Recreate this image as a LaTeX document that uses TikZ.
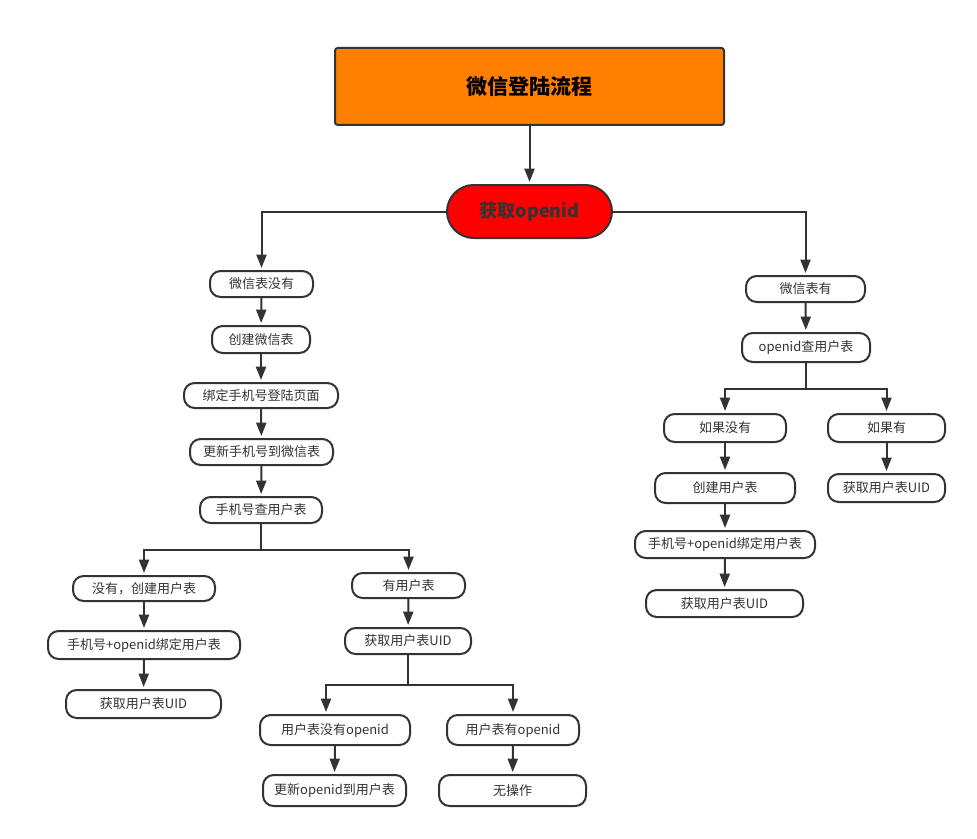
\documentclass[tikz,border=0pt]{standalone}
\usepackage{fontspec}
\setmainfont{Noto Sans CJK SC}
\usetikzlibrary{calc,arrows.meta}

\definecolor{linec}{HTML}{333333}
\definecolor{titlec}{HTML}{FF8000}
\definecolor{oidc}{HTML}{FF0000}

\tikzset{
  pill/.style 2 args={draw=linec, line width=1.5pt, rounded corners=8pt, fill=white,
    minimum width=#1*0.75pt, minimum height=#2*0.75pt, inner sep=0pt,
    text=linec, font=\fontsize{9.75}{11}\selectfont},
  link/.style={draw=linec, line width=1.5pt, -{Triangle[length=10pt,width=7.5pt]}, shorten >=1.5pt},
}

\begin{document}
\begin{tikzpicture}[x=0.75pt,y=-0.75pt]
\useasboundingbox (0,0) rectangle (977,838);

%top
\node[draw=linec, line width=1.5pt, rounded corners=2pt, fill=titlec, minimum width=389*0.75pt, minimum height=77*0.75pt,
  font=\fontsize{15.75}{18}\selectfont\bfseries] (title) at (529.5,86.5) {微信登陆流程};
\node[draw=linec, line width=1.5pt, rounded corners=20pt, fill=oidc, minimum width=165*0.75pt, minimum height=53*0.75pt,
  text=linec, font=\fontsize{13.5}{16}\selectfont\bfseries] (oid) at (529.5,211.5) {获取openid};

%left column
\node[pill={103}{26}] (wxno)  at (261.5,284)   {微信表没有};
\node[pill={98}{27}]  (mkwx)  at (261,339.5)   {创建微信表};
\node[pill={154}{25}] (bind)  at (261,395.5)   {绑定手机号登陆页面};
\node[pill={143}{26}] (upd)   at (261.5,452)   {更新手机号到微信表};
\node[pill={122}{26}] (qry)   at (261,510)     {手机号查用户表};

\node[pill={142}{25}] (nouser) at (144,588.5)  {没有，创建用户表};
\node[pill={192}{28}] (bindl)  at (144,645)    {手机号+openid绑定用户表};
\node[pill={155}{28}] (uidl)   at (143.5,704)  {获取用户表UID};

\node[pill={113}{25}] (hasu)   at (408.5,585.5) {有用户表};
\node[pill={126}{26}] (uidm)   at (408,641)     {获取用户表UID};

\node[pill={150}{30}] (noid)   at (335,730)     {用户表没有openid};
\node[pill={132}{30}] (hasid)  at (513,730)     {用户表有openid};
\node[pill={143}{31}] (updid)  at (334.5,790.5) {更新openid到用户表};
\node[pill={147}{31}] (noop)   at (512.5,790.5) {无操作};

%right column
\node[pill={119}{26}] (wxyes) at (805.5,289)   {微信表有};
\node[pill={128}{29}] (oqry)  at (806,347.5)   {openid查用户表};
\node[pill={122}{28}] (ifno)  at (725,428)     {如果没有};
\node[pill={117}{28}] (ifyes) at (886.5,428)   {如果有};
\node[pill={140}{30}] (mkus)  at (725,488)     {创建用户表};
\node[pill={117}{28}] (uidr)  at (886.5,488)   {获取用户表UID};
\node[pill={180}{27}] (bindr) at (725,544.5)   {手机号+openid绑定用户表};
\node[pill={157}{27}] (uidr2) at (724.5,603.5) {获取用户表UID};

%connectors
\draw[link] (title) -- (oid);
\draw[link] (oid.west) -| (wxno.north);
\draw[link] (oid.east) -| (wxyes.north);

\draw[link] (wxno) -- (mkwx);
\draw[link] (mkwx) -- (bind);
\draw[link] (bind) -- (upd);
\draw[link] (upd) -- (qry);

%branch under qry
\coordinate (qsplit) at ($(qry.south)+(0,26)$);
\draw[link] (qry.south) -- (qsplit) -| (nouser.north);
\draw[link] (qsplit) -| (hasu.north);
\draw[link] (nouser) -- (bindl);
\draw[link] (bindl) -- (uidl);
\draw[link] (hasu) -- (uidm);

%branch under uidm
\coordinate (usplit) at ($(uidm.south)+(0,30)$);
\draw[link] (uidm.south) -- (usplit) -| ($(noid.north)+(-9,0)$);
\draw[link] (usplit) -| (hasid.north);
\draw[link] (noid.south) -- (updid.north);
\draw[link] (hasid) -- (noop);

%right side
\draw[link] (wxyes) -- (oqry);
\coordinate (osplit) at ($(oqry.south)+(0,26)$);
\draw[link] (oqry.south) -- (osplit) -| (ifno.north);
\draw[link] (osplit) -| (ifyes.north);
\draw[link] (ifno) -- (mkus);
\draw[link] (mkus) -- (bindr);
\draw[link] (bindr) -- (uidr2);
\draw[link] (ifyes) -- (uidr);

\end{tikzpicture}
\end{document}
